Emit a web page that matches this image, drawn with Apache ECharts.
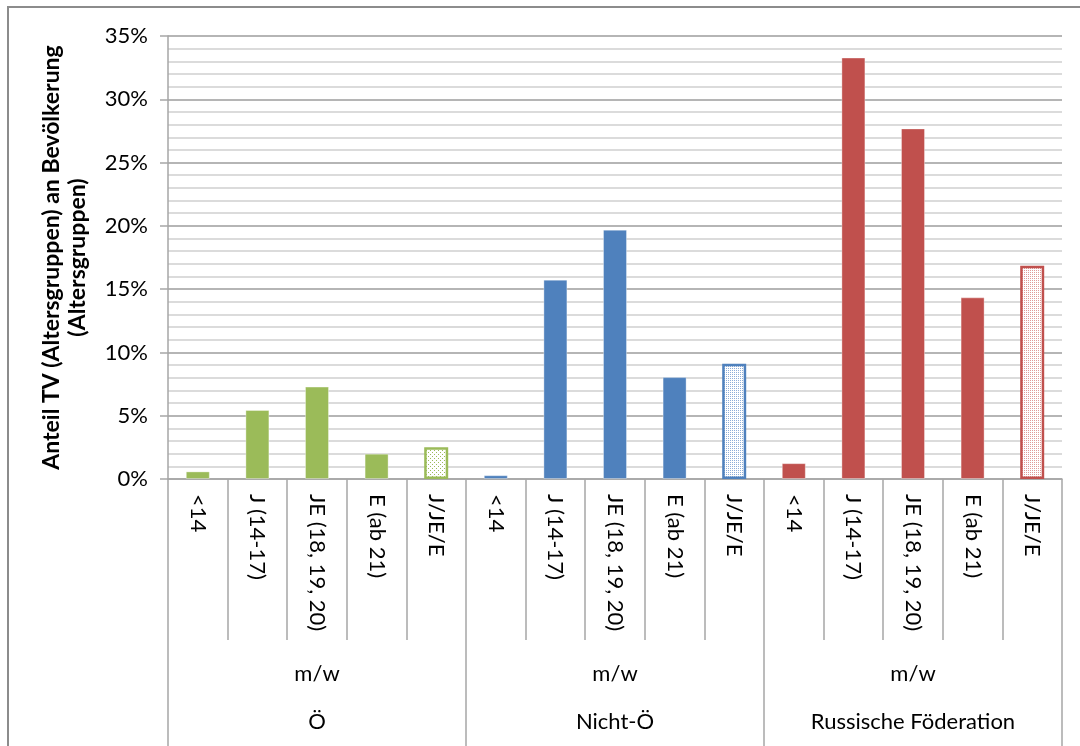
<!DOCTYPE html>
<html>
<head>
<meta charset="utf-8">
<script src="https://cdn.jsdelivr.net/npm/echarts@6/dist/echarts.min.js"></script>
<style>
  html, body { margin: 0; padding: 0; background: #fff; }
  #chart { width: 1080px; height: 746px; }
</style>
</head>
<body>
<div id="chart"></div>
<script>
// Age groups shown inside each population block
const ageGroups = ['<14', 'J (14-17)', 'JE (18, 19, 20)', 'E (ab 21)', 'J/JE/E'];
const sexLabel = 'm/w';
const populations = ['Ö', 'Nicht-Ö', 'Russische Föderation'];

// Share of suspects in the population of the age group, in percent
const valuesOe = [0.6, 5.45, 7.3, 2.0, 2.5];
const valuesNichtOe = [0.3, 15.75, 19.7, 8.05, 9.1];
const valuesRussland = [1.25, 33.3, 27.7, 14.35, 16.85];

const yAxisTitle = 'Anteil TV (Altersgruppen) an Bevölkerung\n(Altersgruppen)';

const colors = ['#9BBB59', '#4F81BD', '#C0504D'];
const dotColors = ['#9BBB59', '#8EADD8', '#E09A98'];

// Small tiles for the dotted fill of the summary bar
function dotTile(dot, dense) {
  const c = document.createElement('canvas');
  const s = dense ? 2 : 4;
  c.width = s; c.height = s;
  const g = c.getContext('2d');
  g.fillStyle = '#ffffff';
  g.fillRect(0, 0, s, s);
  g.fillStyle = dot;
  if (dense) {
    g.fillRect(0, 0, 1, 1);
  } else {
    g.fillRect(0, 0, 1, 1);
    g.fillRect(2, 2, 1, 1);
  }
  return c;
}

const allSeries = [valuesOe, valuesNichtOe, valuesRussland];
const categories = [];
const barData = [];
allSeries.forEach((vals, gi) => {
  vals.forEach((v, i) => {
    categories.push(ageGroups[i]);
    const isTotal = i === ageGroups.length - 1;
    barData.push({
      value: v,
      itemStyle: isTotal ? {
        color: { image: dotTile(dotColors[gi], gi > 0), repeat: 'repeat' },
        borderColor: colors[gi],
        borderWidth: 2.5
      } : {
        color: colors[gi],
        borderColor: 'rgba(255,255,255,0.35)',
        borderWidth: 1
      }
    });
  });
});

const font = 'Lato, "Noto Sans", sans-serif';
const lineCol = '#A6A6A6';

const chart = echarts.init(document.getElementById('chart'), null, { renderer: 'canvas' });
chart.setOption({
  animation: false,
  backgroundColor: '#ffffff',
  graphic: [{
    type: 'rect',
    shape: { x: 8, y: 7, width: 1200, height: 900 },
    style: { fill: 'none', stroke: '#8C8C8C', lineWidth: 2 },
    silent: true
  }],
  grid: { left: 168, right: 18, top: 36, bottom: 267, containLabel: false },
  xAxis: [{
    type: 'category',
    data: categories,
    position: 'bottom',
    axisLine: { lineStyle: { color: lineCol, width: 1.5 } },
    axisTick: { show: true, length: 161, lineStyle: { color: lineCol, width: 1.5 } },
    axisLabel: {
      rotate: -90, margin: 15, interval: 0,
      fontFamily: font, fontSize: 22, color: '#000'
    },
    splitLine: { show: false }
  }, {
    type: 'category',
    data: populations.map(() => sexLabel),
    position: 'bottom',
    axisLine: { show: false },
    axisTick: { show: true, length: 267, lineStyle: { color: lineCol, width: 1.5 } },
    axisLabel: { margin: 184, interval: 0, fontFamily: font, fontSize: 22, color: '#000' }
  }, {
    type: 'category',
    data: populations,
    position: 'bottom',
    axisLine: { show: false },
    axisTick: { show: false },
    axisLabel: { margin: 232, interval: 0, fontFamily: font, fontSize: 22, color: '#000' }
  }],
  yAxis: {
    type: 'value',
    min: 0, max: 35, interval: 5,
    name: yAxisTitle,
    nameLocation: 'middle',
    nameRotate: 90,
    nameGap: 77,
    nameTextStyle: { fontFamily: font, fontSize: 23, fontWeight: 'bold', color: '#000', lineHeight: 26 },
    axisLine: { show: true, lineStyle: { color: lineCol, width: 1.5 } },
    axisTick: { show: true, length: 8, lineStyle: { color: lineCol, width: 1.5 } },
    axisLabel: { formatter: '{value}%', margin: 20, fontFamily: font, fontSize: 22, color: '#000' },
    minorTick: { show: false, splitNumber: 5 },
    splitLine: { show: true, lineStyle: { color: '#9C9C9C', width: 1.5 } },
    minorSplitLine: { show: true, lineStyle: { color: '#CFCFCF', width: 1.5 } }
  },
  series: [{
    type: 'bar',
    xAxisIndex: 0,
    data: barData,
    barWidth: 24
  }]
});
</script>
</body>
</html>
